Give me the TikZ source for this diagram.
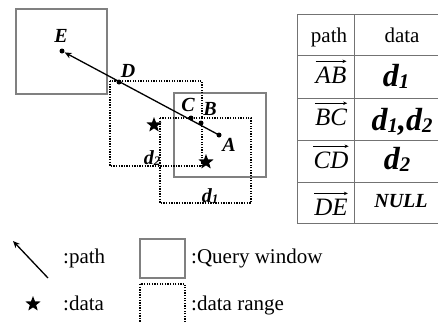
\documentclass[tikz,border=0pt]{standalone}
\usepackage{fontspec}
\setmainfont{Liberation Serif}
\usetikzlibrary{shapes.geometric,arrows.meta}
\tikzset{
  qwin/.style={draw=black!50, line width=1.1pt},
  drange/.style={draw=black, line width=1.3pt, dash pattern=on 1.3pt off 1.3pt},
  ptdot/.style={circle, fill=black, inner sep=0pt, minimum size=5pt},
  ptlabel/.style={font=\fontsize{20}{20}\selectfont\bfseries\itshape, inner sep=0pt},
  dlabel/.style={font=\fontsize{20}{20}\selectfont\bfseries\itshape, inner sep=0pt, anchor=base},
  datastar/.style={star, star points=5, star point ratio=2.4, fill=black, inner sep=0pt, minimum size=16pt},
  pathline/.style={line width=1.3pt, -{Stealth[length=7pt,width=6pt]}},
  grid/.style={draw=black!55, line width=0.8pt},
  celltxt/.style={font=\fontsize{21}{21}\selectfont, inner sep=0pt, anchor=base},
  vectxt/.style={font=\fontsize{25}{25}\selectfont\itshape, inner sep=0pt, anchor=base},
  vecarrow/.style={line width=0.7pt, -{Stealth[length=4pt,width=3.5pt]}},
  bigd/.style={font=\fontsize{32}{32}\selectfont\bfseries\itshape, inner sep=0pt, anchor=base},
  legtxt/.style={font=\fontsize{21}{21}\selectfont, anchor=base west, inner sep=0pt}
}
% bold italic d with a lowered, smaller index
\newcommand{\dsub}[1]{\textbf{\textit{d}}\raisebox{-0.15ex}{\fontsize{0.65em}{0.65em}\selectfont\bfseries\itshape #1}}
\begin{document}
\begin{tikzpicture}[x=1pt, y=-1pt]
\useasboundingbox (0,0) rectangle (438,322);
% query windows
\draw[qwin] (16,9) rectangle (107,94);
\draw[qwin] (174,93) rectangle (266,177);
% data ranges
\draw[drange] (110,81) rectangle (202,166);
\draw[drange] (160,118) rectangle (251,203);
% path points
\coordinate (E) at (62,51);
\coordinate (D) at (119,82);
\coordinate (C) at (191,118);
\coordinate (B) at (201,123);
\coordinate (A) at (219,135);
\draw[pathline, shorten >=3pt] (A) -- (E);
\foreach \p in {A,B,C,D,E} \node[ptdot] at (\p) {};
\node[ptlabel] (lE) at (61,36) {E};
\node[ptlabel] (lD) at (128,71) {D};
\node[ptlabel] (lC) at (188,105) {C};
\node[ptlabel] (lB) at (210,109) {B};
\node[ptlabel] (lA) at (229,145) {A};
% data items
\node[datastar] (s2) at (154,125) {};
\node[datastar] (s1) at (206,162) {};
\node[dlabel] (ld2) at (152,164) {\dsub{2}};
\node[dlabel] (ld1) at (210,202) {\dsub{1}};
% table
\draw[grid] (297,14) rectangle (452,223);
\draw[grid] (354,14) -- (354,223);
\foreach \yy in {55,98,140,182} \draw[grid] (297,\yy) -- (452,\yy);
\node[celltxt] (h1) at (329,42) {path};
\node[celltxt] (h2) at (402,42) {data};
\node[vectxt] (r1) at (331,83) {AB};
\node[vectxt] (r2) at (331,125) {BC};
\node[vectxt] (r3) at (331,168) {CD};
\node[vectxt] (r4) at (331,215) {DE};
\foreach \r in {r1,r2,r3,r4}
  \draw[vecarrow] ([yshift=5pt]\r.north west) -- ([yshift=5pt]\r.north east);
\node[bigd] (v1) at (396,86) {\dsub{1}};
\node[bigd] (v2) at (402,130) {\dsub{1},\dsub{2}};
\node[bigd] (v3) at (397,169) {\dsub{2}};
\node[celltxt, font=\fontsize{20}{20}\selectfont\bfseries\itshape] (v4) at (401,207) {NULL};
% legend
\coordinate (lg0) at (48,278);
\coordinate (lg1) at (13,241);
\draw[pathline] (lg0) -- (lg1);
\node[legtxt] (tpath) at (63,263) {:path};
\node[datastar] (lstar) at (33,304) {};
\node[legtxt] (tdata) at (63,310) {:data};
\draw[qwin] (140,239) rectangle (185,278);
\node[legtxt] (tqw) at (191,263) {:Query window};
\draw[drange] (140,284) rectangle (185,330);
\node[legtxt] (tdr) at (191,310) {:data range};
\end{tikzpicture}
\end{document}
